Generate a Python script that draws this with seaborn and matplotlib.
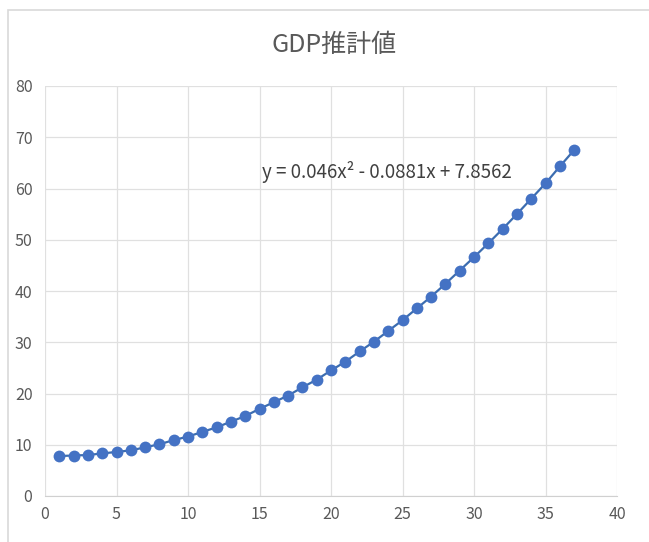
import matplotlib
matplotlib.use("Agg")
import matplotlib.pyplot as plt
import seaborn as sns
import pandas as pd
from matplotlib.patches import Rectangle

x_vals = list(range(1, 38))
gdp = [7.8, 7.9, 8.0, 8.3, 8.6, 8.9, 9.5, 10.1, 10.9, 11.6, 12.5, 13.4, 14.5,
       15.6, 17.0, 18.3, 19.6, 21.2, 22.7, 24.5, 26.2, 28.2, 30.1, 32.2, 34.3,
       36.6, 38.9, 41.4, 44.0, 46.6, 49.3, 52.1, 55.0, 58.0, 61.0, 64.3, 67.5]
title = "GDP推計値"
equation = "y = 0.046x² - 0.0881x + 7.8562"
x_ticks = [0, 5, 10, 15, 20, 25, 30, 35, 40]
y_ticks = [0, 10, 20, 30, 40, 50, 60, 70, 80]

df = pd.DataFrame({"x": x_vals, "y": gdp})

sns.set_style("white")
plt.rcParams["font.family"] = ["Noto Sans CJK JP", "DejaVu Sans"]

fig = plt.figure(figsize=(6.49, 5.42), dpi=100)
fig.patches.append(Rectangle((8 / 649, -0.01), 1, 1.01 - 10 / 542, transform=fig.transFigure,
                             fill=False, edgecolor="#d9d9d9", linewidth=1.2))
ax = fig.add_axes([45 / 649, (542 - 496) / 542, (617 - 45) / 649, (496 - 86) / 542])

sns.lineplot(data=df, x="x", y="y", ax=ax, color="#3c6db0", linewidth=1.6,
             marker="o", markersize=8.5, markeredgewidth=0, markerfacecolor="#4472C4")

ax.set_xlim(0, 40)
ax.set_ylim(0, 80)
ax.set_xticks(x_ticks)
ax.set_yticks(y_ticks)
ax.grid(True, color="#e0e0e0", linewidth=0.9)
for s in ["top", "right", "left"]:
    ax.spines[s].set_visible(False)
ax.spines["bottom"].set_color("#d0d0d0")
ax.tick_params(axis="both", length=0, labelsize=11.5, colors="#595959")
ax.tick_params(axis="x", pad=7)
ax.tick_params(axis="y", pad=9)
ax.set_xlabel("")
ax.set_ylabel("")
ax.text(23.9, 63.2, equation, ha="center", va="center", fontsize=13.5, color="#404040")
fig.text(334 / 649, 1 - 45 / 542, title, ha="center", va="center", fontsize=18, color="#595959")

fig.savefig("out.png", dpi=100)
